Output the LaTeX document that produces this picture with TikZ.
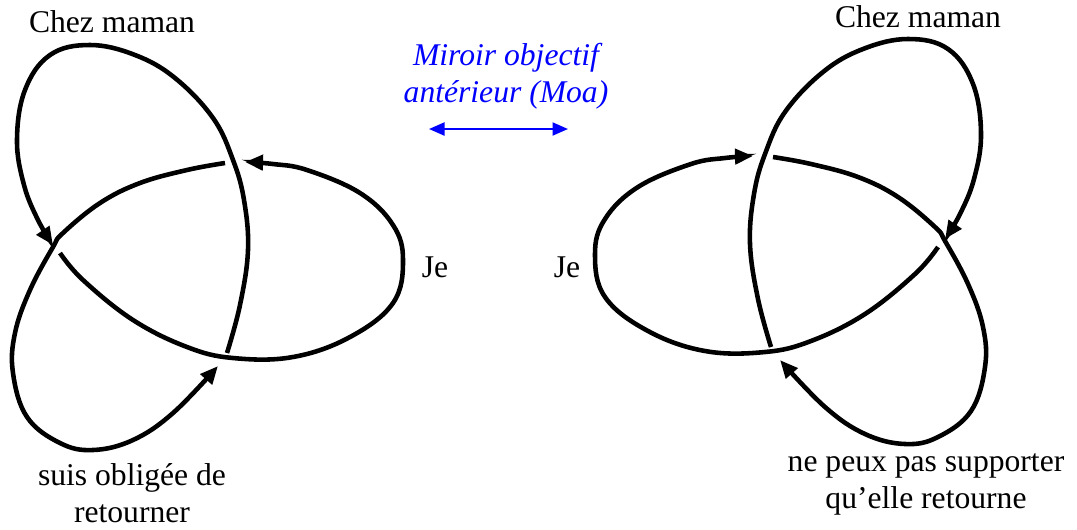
\documentclass[tikz,border=0pt]{standalone}
\usepackage{fontspec}
\setmainfont{Liberation Serif}
\usetikzlibrary{arrows.meta}

\begin{document}
\begin{tikzpicture}[
    x=0.02cm, y=-0.02cm,
    >={Triangle[length=3.6mm,width=3mm]},
    strand/.style={line width=2.6pt},
    lbl/.style={font=\fontsize{18}{21}\selectfont, align=center, inner sep=0pt},
    mirror/.style={font=\fontsize{18}{21}\selectfont\itshape, text=blue, align=center, inner sep=0pt}
  ]
  \useasboundingbox (0,0) rectangle (1077,529);
  % left knot, then its mirror image on the right
  \foreach \s/\sx/\sy in {1/0/0, -1/998/-6} {
    \begin{scope}[shift={(\sx,\sy)}, xscale=\s]
      % top loop
      \draw[strand,->] plot[smooth, tension=0.65] coordinates {(227,353) (240,305) (248,250) (244,200) (233,160)
        (213,118) (175,78) (135,55) (90,45) (50,55) (25,90) (17,140) (24,185) (38,220) (53,245)};
      % side loop
      \draw[strand,->] plot[smooth, tension=0.65] coordinates {(60,253) (83,280) (133,320) (187,347) (233,358)
        (293,357) (350,337) (393,303) (403,260) (393,225) (360,193) (307,170) (273,164) (245,162)};
      % bottom loop
      \draw[strand,->] plot[smooth, tension=0.65] coordinates {(225,163) (187,170) (140,183) (100,203) (63,233)
        (53,247) (30,290) (15,333) (13,373) (27,417) (60,443) (93,450) (133,440) (173,413) (218,366)};
    \end{scope}
  }
  % labels
  \node[lbl, anchor=base] (mamanL) at (112,32) {Chez maman};
  \node[lbl, anchor=base] (mamanR) at (918,27) {Chez maman};
  \node[lbl, anchor=base] (jeL) at (435,277) {Je};
  \node[lbl, anchor=base] (jeR) at (567,277) {Je};
  \node[lbl, anchor=base] (oblige) at (132,522) {suis oblig\'ee de\\retourner};
  \node[lbl, anchor=base] (retour) at (926,508) {ne peux pas supporter\\qu'elle retourne};
  % mirror
  \node[mirror, anchor=base] (moa) at (506,102) {Miroir objectif\\ant\'erieur (Moa)};
  \coordinate (moaL) at (429,129);
  \coordinate (moaR) at (568,129);
  \draw[blue, line width=1.2pt, {Triangle[length=3.1mm,width=2.6mm]}-{Triangle[length=3.1mm,width=2.6mm]}] (moaL) -- (moaR);
\end{tikzpicture}
\end{document}
